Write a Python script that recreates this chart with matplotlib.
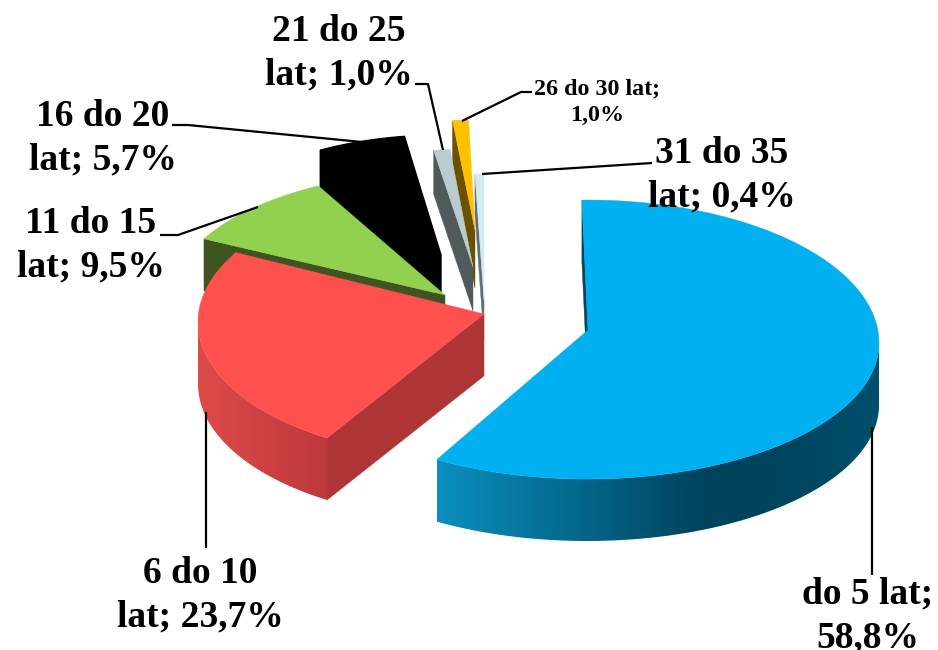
import numpy as np
import matplotlib
matplotlib.use("Agg")
import matplotlib.pyplot as plt
from matplotlib.colors import LinearSegmentedColormap
from matplotlib.patches import Polygon

plt.rcParams['font.family'] = ['Liberation Serif', 'DejaVu Serif']

# data
categories = ["do 5 lat", "6 do 10 lat", "11 do 15 lat", "16 do 20 lat",
              "21 do 25 lat", "26 do 30 lat", "31 do 35 lat"]
values = [58.8, 23.7, 9.5, 5.7, 1.0, 1.0, 0.4]
label_texts = ["do 5 lat;\n58,8%", "6 do 10\nlat; 23,7%", "11 do 15\nlat; 9,5%",
               "16 do 20\nlat; 5,7%", "21 do 25\nlat; 1,0%", "26 do 30 lat;\n1,0%",
               "31 do 35\nlat; 0,4%"]

top_colors = ["#00b0f0", "#ff5050", "#92d050", "#000000", "#b9cdd1", "#ffc000", "#d2ebf0"]
wall_colors = ["#004560", "#ae3535", "#3f5420", "#000000", "#505a5a", "#6b5000", "#5d6d75"]
outer_cmaps = {
    0: LinearSegmentedColormap.from_list("blue_side", [(0, "#0a8fbf"), (0.6, "#00435c"), (0.75, "#00435c"), (1, "#004f6c")]),
    1: LinearSegmentedColormap.from_list("red_side", ["#de4a4a", "#bd393b"]),
}

# exploded slices: apex, ellipse centre, radii (rx, ry above, ry below), thickness
apex = [(588, 330), (484, 314), (445, 295), (441, 255), (473, 267), (475, 230), (484, 300)]
centre = [(587, 343), (468, 322), (455, 295), (442, 255), (473, 267), (475, 230), (484, 300)]
radii = [(292, 143, 136), (270, 136, 136), (281, 125, 125), (250, 120, 120),
         (262, 118, 118), (256, 110, 110), (360, 126, 126)]
depth = [62, 62, 52, 42, 44, 58, 40]
start_tweak = [-1, 0, 0, 0, 0, 0, 0]
end_tweak = [-0.5, 4, 0, 0, 0, 0, 0]

# leader lines
leaders = [
    [(872, 427), (872, 575)],
    [(206, 412), (206, 548)],
    [(160, 235), (178, 235), (258, 207)],
    [(172, 125), (188, 125), (362, 142)],
    [(415, 84), (428, 84), (443, 150)],
    [(532, 92), (521, 92), (462, 121)],
    [(482, 174), (652, 163)],
]
label_pos = [(868, 616), (200, 595), (91, 245), (103, 138), (339, 53), (597, 102), (722, 175)]
label_size = [27, 27, 27, 27, 27, 17.3, 27]


def arc_xy(i, a0, a1, n=300):
    t = np.radians(np.linspace(a0, a1, n))
    cx, cy = centre[i]
    rx, ry_up, ry_down = radii[i]
    c = np.cos(t)
    return cx + rx * np.sin(t), cy - np.where(c > 0, ry_up, ry_down) * c, t


fig = plt.figure(figsize=(9.38, 6.5), dpi=100)
ax = fig.add_axes([0, 0, 1, 1])

fractions = np.array(values) / np.sum(values)
starts = np.concatenate([[0], np.cumsum(fractions)[:-1]]) * 360
ends = np.cumsum(fractions) * 360

# back slices first, the big front ones last
z = 1
for i in [6, 5, 4, 3, 2, 1, 0]:
    a0 = starts[i] + start_tweak[i]
    a1 = ends[i] + end_tweak[i]
    d = depth[i]
    ax_, ay_ = apex[i]
    xs, ys, t = arc_xy(i, a0, a1)
    edge_w = 1.0 if i == 3 else 0.3  # black slice must not show a seam

    # wall along the starting edge
    ax.fill([ax_, xs[0], xs[0], ax_], [ay_, ys[0], ys[0] + d, ay_ + d],
            color=wall_colors[i], lw=edge_w, zorder=z)
    z += 1

    # outer wall, only the part facing the viewer, gradient clipped to its shape
    mask = np.cos(t) < 0
    if i in outer_cmaps and mask.sum() > 1:
        fx = xs[mask]
        fy = ys[mask]
        shape = Polygon(np.c_[np.r_[fx, fx[::-1]], np.r_[fy, fy[::-1] + d]],
                        closed=True, transform=ax.transData, facecolor="none", edgecolor="none")
        ax.add_patch(shape)
        grad = np.linspace(0, 1, 256).reshape(1, -1)
        lo, hi = fx.min(), fx.max()
        im = ax.imshow(grad, cmap=outer_cmaps[i], aspect="auto",
                       extent=(lo, hi, fy.max() + d, fy.min()), zorder=z)
        im.set_clip_path(shape)
        z += 1

    # top face
    ax.fill(np.r_[ax_, xs], np.r_[ay_, ys], color=top_colors[i], lw=edge_w, zorder=z)
    z += 1

for pts in leaders:
    px, py = zip(*pts)
    ax.plot(px, py, color="black", lw=1.6, solid_capstyle="butt", zorder=z)

for txt, (lx, ly), size in zip(label_texts, label_pos, label_size):
    ax.text(lx, ly, txt, ha="center", va="center", fontsize=size, fontweight="bold",
            linespacing=1.32, color="black", zorder=z + 1)

ax.set_xlim(0, 938)
ax.set_ylim(650, 0)
ax.axis("off")

fig.savefig("out.png", dpi=100)
